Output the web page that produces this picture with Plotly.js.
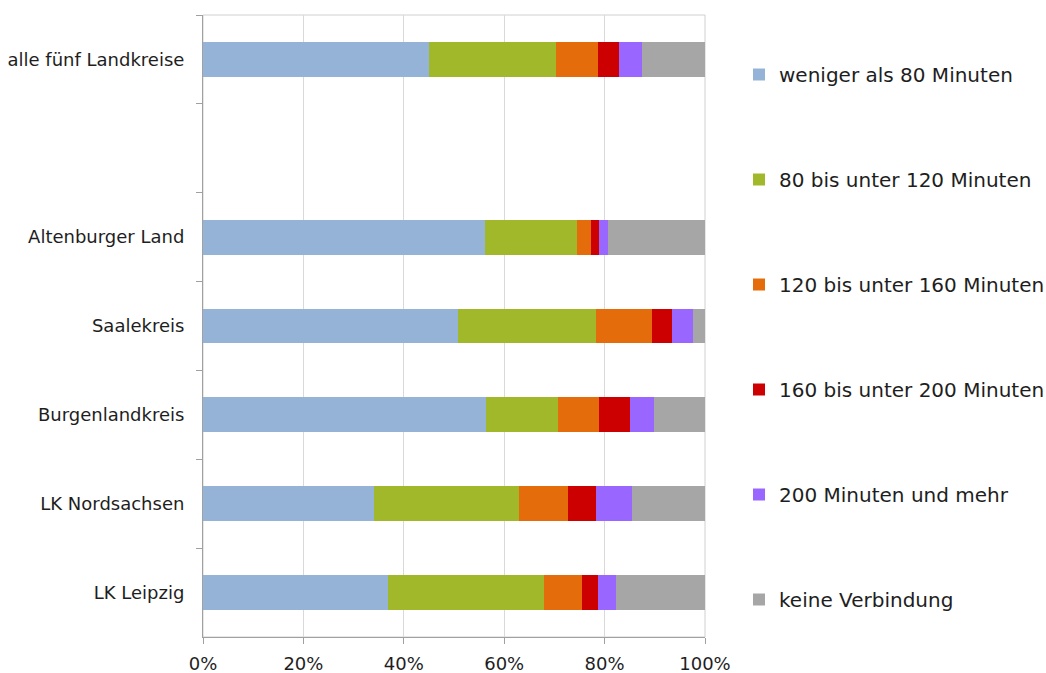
<!DOCTYPE html>
<html>
<head>
<meta charset="utf-8">
<script src="https://cdn.plot.ly/plotly-3.0.1.min.js"></script>
<style>
  html, body { margin: 0; padding: 0; background: #ffffff; }
  #chart { width: 1046px; height: 673px; }
</style>
</head>
<body>
<div id="chart"></div>
<script>
// Regions, top to bottom; the blank entry leaves an empty row below the total
const regions = [
  'alle fünf Landkreise',
  ' ',
  'Altenburger Land',
  'Saalekreis',
  'Burgenlandkreis',
  'LK Nordsachsen',
  'LK Leipzig'
];

// Travel-time classes (legend entries)
const classes = [
  'weniger als 80 Minuten',
  '80 bis unter 120 Minuten',
  '120 bis unter 160 Minuten',
  '160 bis unter 200 Minuten',
  '200 Minuten und mehr',
  'keine Verbindung'
];

// Shares in percent per region (same order as regions)
const under80    = [45.0, null, 56.2, 50.7, 56.4, 34.0, 36.9];
const from80     = [25.3, null, 18.3, 27.6, 14.3, 28.9, 31.1];
const from120    = [ 8.4, null,  2.8, 11.1,  8.2,  9.8,  7.4];
const from160    = [ 4.2, null,  1.5,  4.1,  6.2,  5.5,  3.3];
const over200    = [ 4.5, null,  1.8,  4.1,  4.7,  7.3,  3.5];
const noLink     = [12.6, null, 19.4,  2.4, 10.2, 14.5, 17.8];

const xTicks = [0, 20, 40, 60, 80, 100];

const series = [under80, from80, from120, from160, over200, noLink];
const colors = ['#95B3D7', '#A2B82B', '#E46C0A', '#CC0000', '#9966FF', '#A6A6A6'];

const traces = series.map((vals, i) => ({
  type: 'bar',
  orientation: 'h',
  name: classes[i],
  legendgroup: 'g' + i,
  y: regions,
  x: vals,
  marker: { color: colors[i], line: { width: 0 } },
  hoverinfo: 'name+x'
}));

const layout = {
  width: 1046,
  height: 673,
  paper_bgcolor: '#ffffff',
  plot_bgcolor: '#ffffff',
  font: { family: '"DejaVu Sans", Verdana, sans-serif', size: 18, color: '#1e1e1e' },
  margin: { l: 203, r: 341, t: 15, b: 36, pad: 0 },
  barmode: 'stack',
  bargap: 0.607,
  showlegend: true,
  legend: {
    xref: 'container', yref: 'container',
    x: 739 / 1046, y: 1 - 55 / 673,
    xanchor: 'left', yanchor: 'top',
    traceorder: 'grouped',
    tracegroupgap: 76,
    maxheight: 660,
    font: { size: 20, color: '#1e1e1e' },
    bgcolor: 'rgba(0,0,0,0)',
    borderwidth: 0
  },
  xaxis: {
    range: [0, 100],
    tickvals: xTicks,
    ticktext: xTicks.map(v => v + '%'),
    showgrid: true,
    gridcolor: '#d9d9d9',
    gridwidth: 1,
    zeroline: false,
    showline: true,
    linecolor: '#a0a0a0',
    linewidth: 1,
    ticks: 'outside',
    ticklen: 6,
    tickcolor: '#a0a0a0',
    ticklabelstandoff: 4,
    tickfont: { size: 18 },
    fixedrange: true
  },
  yaxis: {
    type: 'category',
    categoryorder: 'array',
    categoryarray: regions,
    autorange: 'reversed',
    showgrid: false,
    zeroline: false,
    showline: true,
    linecolor: '#a0a0a0',
    linewidth: 1,
    ticks: 'outside',
    tickson: 'boundaries',
    ticklen: 6,
    tickcolor: '#a0a0a0',
    ticklabelstandoff: 14,
    tickfont: { size: 18 },
    fixedrange: true
  },
  shapes: [
    // light frame around the plot area
    { type: 'rect', xref: 'paper', yref: 'paper', x0: 0, x1: 1, y0: 0, y1: 1,
      line: { color: '#d0d0d0', width: 1 }, layer: 'below' }
  ]
};

Plotly.newPlot('chart', traces, layout, { displayModeBar: false, staticPlot: true });
</script>
</body>
</html>
